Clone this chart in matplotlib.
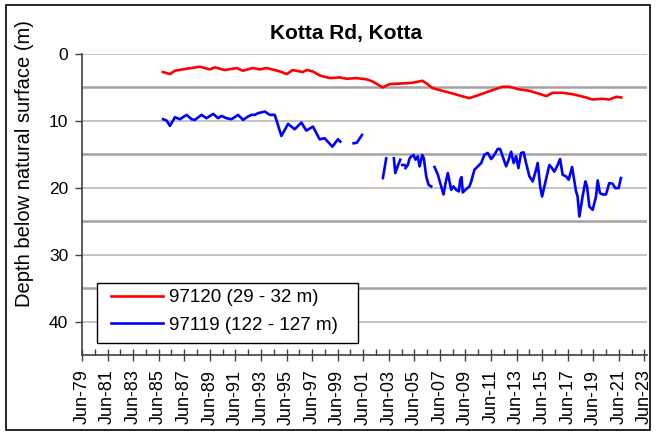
import numpy as np
import matplotlib
matplotlib.use("Agg")
import matplotlib.pyplot as plt
from matplotlib.patches import Rectangle
from matplotlib.ticker import FixedLocator

plt.rcParams['font.family'] = ['Liberation Sans', 'DejaVu Sans']

title = "Kotta Rd, Kotta"
ylabel = "Depth below natural surface (m)"
series_names = ["97120 (29 - 32 m)", "97119 (122 - 127 m)"]

# 97120 shallow bore: decimal year, depth (m)
red_year = [1985.83, 1986.38, 1986.77, 1987.70, 1988.72, 1989.50, 1989.89, 1990.67,
            1991.61, 1992.08, 1992.86, 1993.41, 1993.95, 1994.97, 1995.52, 1995.98,
            1996.77, 1997.08, 1997.55, 1998.09, 1998.88, 1999.66, 2000.20, 2000.98,
            2001.77, 2002.23, 2003.02, 2003.56, 2004.58, 2005.36, 2006.14, 2006.45,
            2006.92, 2007.70, 2008.48, 2009.58, 2009.81, 2010.59, 2011.61, 2012.39,
            2012.94, 2013.72, 2014.50, 2015.52, 2015.83, 2016.30, 2017.08, 2017.86,
            2018.95, 2019.42, 2020.20, 2020.75, 2021.30, 2021.69]
red_depth = [2.7, 3.0, 2.5, 2.2, 1.9, 2.3, 2.0, 2.4,
             2.1, 2.5, 2.1, 2.3, 2.1, 2.6, 3.0, 2.4,
             2.7, 2.4, 2.6, 3.2, 3.6, 3.5, 3.7, 3.6,
             3.8, 4.1, 5.0, 4.5, 4.4, 4.3, 4.0, 4.4,
             5.1, 5.5, 5.9, 6.5, 6.6, 6.1, 5.4, 4.9,
             4.9, 5.3, 5.5, 6.1, 6.3, 5.8, 5.8, 6.0,
             6.5, 6.8, 6.7, 6.8, 6.4, 6.5]

# 97119 deep bore (NaN = gap in record)
nan = np.nan
blue_year = [1985.85, 1986.12, 1986.38, 1986.77, 1987.16, 1987.68, 1988.07, 1988.33,
             1988.85, 1989.24, 1989.76, 1990.15, 1990.41, 1990.80, 1991.20, 1991.71,
             1992.10, 1992.49, 1992.76, 1993.02, 1993.27, 1993.80, 1994.19, 1994.58,
             1995.10, 1995.62, 1996.14, 1996.66, 1997.05, 1997.57, 1998.09, 1998.48,
             1999.09, 1999.52, 1999.71, 2000.2,
             2000.75, 2001.01, 2001.40, 2002.5,
             2003.04, 2003.30, 2003.6,
             2003.90, 2004.01, 2004.21, 2004.40, 2004.48,
             2004.55, 2004.73, 2004.77,
             2004.81, 2004.99, 2005.13, 2005.26, 2005.44, 2005.59, 2005.77, 2005.91,
             2006.12, 2006.24, 2006.43, 2006.61, 2006.82, 2006.95,
             2007.08, 2007.34, 2007.60, 2007.78, 2007.94, 2008.12, 2008.25, 2008.38,
             2008.56, 2008.77, 2008.98, 2009.09, 2009.19, 2009.29, 2009.55, 2009.81,
             2009.95, 2010.20, 2010.46, 2010.73, 2010.98, 2011.24, 2011.51, 2011.77,
             2012.02, 2012.21, 2012.41, 2012.68, 2012.88, 2013.07, 2013.27, 2013.46,
             2013.64, 2013.85, 2014.05, 2014.24, 2014.50, 2014.76, 2015.02, 2015.15,
             2015.34, 2015.49, 2015.67, 2016.06, 2016.27, 2016.45, 2016.71, 2016.90,
             2017.10, 2017.37, 2017.57, 2017.84, 2018.02, 2018.15, 2018.27, 2018.41,
             2018.66, 2018.88, 2019.01, 2019.19, 2019.45, 2019.71, 2019.84, 2020.02,
             2020.23, 2020.49, 2020.75, 2021.01, 2021.22, 2021.48, 2021.66]
blue_depth = [9.75, 9.95, 10.75, 9.45, 9.75, 9.1, 9.75, 9.85,
              9.1, 9.6, 8.95, 9.6, 9.25, 9.6, 9.75, 9.1,
              9.85, 9.35, 9.1, 9.1, 8.85, 8.6, 9.1, 9.1,
              12.25, 10.45, 11.25, 10.25, 11.45, 10.85, 12.75, 12.6,
              13.85, 12.75, 13.1, nan,
              13.35, 13.25, 12.1, nan,
              18.55, 15.6, nan,
              15.6, 17.8, 16.7, 15.8, nan,
              16.6, 16.6, nan,
              17.05, 16.6, 15.6, 15.3, 15.1, 15.8, 15.3, 16.8,
              15.1, 15.6, 18.3, 19.55, 19.8, nan,
              16.9, 18.05, 19.8, 21.0, 19.3, 17.8, 19.05, 20.3,
              19.8, 20.3, 20.55, 18.8, 18.4, 20.7, 20.2, 19.8,
              19.05, 17.3, 16.8, 16.3, 15.05, 14.8, 15.7, 15.05,
              14.2, 14.2, 15.3, 16.8, 15.8, 14.6, 16.3, 15.3,
              17.05, 14.8, 14.7, 16.3, 18.3, 19.05, 17.3, 16.3,
              19.8, 21.3, 19.8, 16.6, 17.05, 17.6, 16.6, 15.7,
              18.05, 18.3, 18.8, 16.9, 19.05, 20.55, 21.3, 24.3,
              21.3, 19.05, 19.8, 22.8, 23.3, 21.3, 18.9, 20.8,
              21.0, 21.0, 19.3, 19.4, 20.05, 20.05, 18.55]

tick_years = [1979.5 + 2 * k for k in range(23)]
tick_labels = ["Jun-%02d" % (int(y) % 100) for y in tick_years]
minor_years = [1980.5 + 2 * k for k in range(22)]
y_ticks = [0, 10, 20, 30, 40]

W, H = 656, 434
fig = plt.figure(figsize=(W / 100, H / 100), dpi=100)
ax = fig.add_axes([82 / W, 1 - 355 / H, (647 - 82) / W, (355 - 54) / H])

ax.set_xlim(1979.5, 2023.7)
ax.set_ylim(45, 0)

# gridlines
for g in [0, 10, 20, 30, 40]:
    ax.axhline(g, color='#bdbdbd', lw=1.3, zorder=1)
for g in [5, 15, 25, 35]:
    ax.axhline(g, color='#a3a3a3', lw=1.8, zorder=1)

ax.plot(red_year, red_depth, color='#ff0000', lw=1.9, label=series_names[0], zorder=3)
ax.plot(blue_year, blue_depth, color='#0000ff', lw=1.9, label=series_names[1], zorder=3)

for s in ['top', 'right']:
    ax.spines[s].set_visible(False)
for s in ['left', 'bottom']:
    ax.spines[s].set_color('#404040')
    ax.spines[s].set_linewidth(1.2)

ax.yaxis.set_major_locator(FixedLocator(y_ticks))
ax.set_yticklabels([str(v) for v in y_ticks])
ax.tick_params(axis='y', direction='out', length=5, width=1, labelsize=12.5,
               colors='#404040', labelcolor='black', pad=5)

ax.xaxis.set_major_locator(FixedLocator(tick_years))
ax.xaxis.set_minor_locator(FixedLocator(minor_years))
ax.set_xticklabels(tick_labels, rotation=90)
ax.tick_params(axis='x', which='major', direction='inout', length=9, width=1,
               labelsize=13, colors='#404040', labelcolor='black', pad=6)
ax.tick_params(axis='x', which='minor', direction='in', length=4, width=1, colors='#404040')

# legend: frameless entries inside a drawn box
ax.add_patch(Rectangle(((97 - 82) / 565, (355 - 343) / 301), (358 - 97) / 565, (343 - 283) / 301,
                       transform=ax.transAxes, facecolor='white', edgecolor='black',
                       lw=1.0, zorder=5))
leg = ax.legend(loc='upper left', bbox_to_anchor=((111 - 82) / 565, (355 - 289) / 301),
                fontsize=13.5, frameon=False, handlelength=2.75, borderpad=0,
                labelspacing=0.55, handletextpad=0.35, borderaxespad=0)
leg.set_zorder(6)

fig.text(346 / W, 1 - 33 / H, title, ha='center', va='center', fontsize=15, fontweight='bold')
fig.text(25 / W, 1 - 164 / H, ylabel, ha='center', va='center', rotation=90, fontsize=14.5)

fig.patches.append(Rectangle((6 / W, 4 / H), (650 - 6) / W, (430 - 5) / H,
                             transform=fig.transFigure, fill=False, edgecolor='black', lw=1.2))

fig.savefig("out.png", dpi=100)
